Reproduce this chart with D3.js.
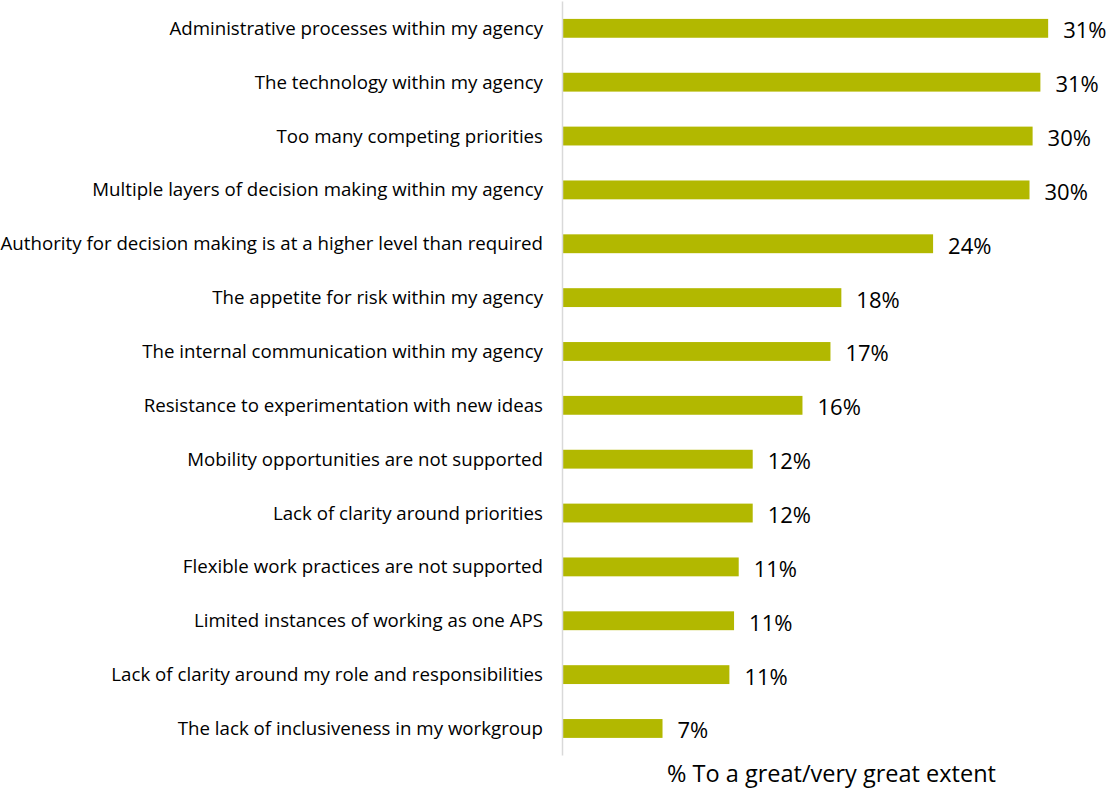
<!DOCTYPE html>
<meta charset="utf-8">

<!-- Load d3.js -->
<script src="https://d3js.org/d3.v7.min.js"></script>

<style type="text/css">
  body { margin: 0; background: #fff; }
  text { font-family: "Open Sans", "Noto Sans", sans-serif; fill: #000; }
</style>

<!-- Create a div where the graph will take place -->
<div id="my_dataviz"></div>

<script>

// data
let categories = [
  "Administrative processes within my agency",
  "The technology within my agency",
  "Too many competing priorities",
  "Multiple layers of decision making within my agency",
  "Authority for decision making is at a higher level than required",
  "The appetite for risk within my agency",
  "The internal communication within my agency",
  "Resistance to experimentation with new ideas",
  "Mobility opportunities are not supported",
  "Lack of clarity around priorities",
  "Flexible work practices are not supported",
  "Limited instances of working as one APS",
  "Lack of clarity around my role and responsibilities",
  "The lack of inclusiveness in my workgroup"
];
let values = [31.2, 30.7, 30.2, 30.0, 23.8, 17.9, 17.2, 15.4, 12.2, 12.2, 11.3, 11.0, 10.7, 6.4];
let valueLabels = ["31%", "31%", "30%", "30%", "24%", "18%", "17%", "16%", "12%", "12%", "11%", "11%", "11%", "7%"];
let axisTitle = "% To a great/very great extent";

// dimensions
let width = 1110,
    height = 789;
let plotLeft = 563, plotTop = 1.4, plotBottom = 755.4;

let svg = d3.select("#my_dataviz")
  .append("svg")
  .attr("width", width)
  .attr("height", height);

// X scale (no visible axis in the original)
let x = d3.scaleLinear()
  .domain([0, 35])
  .range([plotLeft, plotLeft + 35 * 15.55]);

// Y scale
let y = d3.scaleBand()
  .domain(categories)
  .range([plotTop, plotBottom])
  .paddingInner(0.65)
  .paddingOuter(0.325);

// bars
svg.selectAll(".bar")
  .data(values)
  .enter()
  .append("rect")
  .attr("class", "bar")
  .attr("x", x(0))
  .attr("y", function(d, i) { return y(categories[i]) })
  .attr("width", function(d) { return x(d) - x(0) })
  .attr("height", y.bandwidth())
  .attr("fill", "#b2b800");

// vertical axis line
svg.append("line")
  .attr("x1", x(0) - 0.5)
  .attr("x2", x(0) - 0.5)
  .attr("y1", plotTop)
  .attr("y2", plotBottom)
  .attr("stroke", "#d9d9d9")
  .attr("stroke-width", 1.5);

// category labels
svg.selectAll(".cat")
  .data(categories)
  .enter()
  .append("text")
  .attr("class", "cat")
  .attr("x", 543)
  .attr("y", function(d) { return y(d) + y.bandwidth() / 2 + 6.5 })
  .style("text-anchor", "end")
  .style("font-size", "18.7px")
  .text(function(d) { return d });

// value labels
svg.selectAll(".val")
  .data(values)
  .enter()
  .append("text")
  .attr("class", "val")
  .attr("x", function(d) { return x(d) + 15 })
  .attr("y", function(d, i) { return y(categories[i]) + y.bandwidth() / 2 + 10 })
  .style("font-size", "22px")
  .text(function(d, i) { return valueLabels[i] });

// x axis title
svg.append("text")
  .attr("x", (x(0) + width - 10) / 2)
  .attr("y", 782)
  .style("text-anchor", "middle")
  .style("font-size", "23.5px")
  .text(axisTitle);

</script>
